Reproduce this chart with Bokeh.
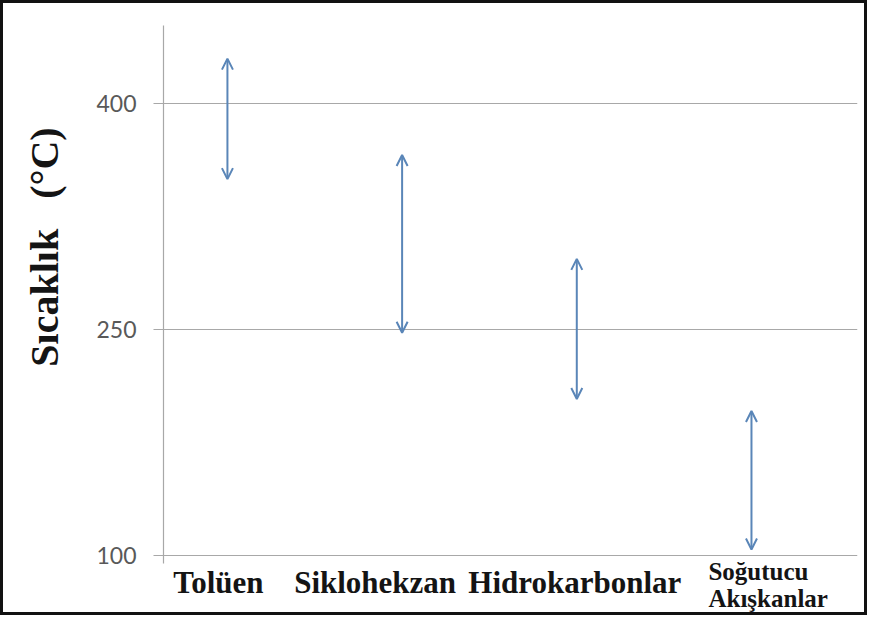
import math
from bokeh.plotting import figure
from bokeh.models import Range1d, FixedTicker, Arrow, OpenHead, ColumnDataSource, Label
from bokeh.embed import file_html
from bokeh.resources import INLINE

# ---- data ----
categories = ["Tolüen", "Siklohekzan", "Hidrokarbonlar", "Soğutucu\nAkışkanlar"]
temp_low = [350, 248, 204, 104]
temp_high = [430, 366, 297, 196]
y_ticks = [100, 250, 400]
y_title = "Sıcaklık"
y_unit = "(°C)"

# ---- layout / style ----
NB = "\u00a0"
X_START, X_END = -0.366, 3.607
Y_AXIS_MIN, Y_END = 100, 452
Y_START = 58.2          # frame continues below the axis so category texts are shown
ARROW_COLOR = "#5a86b8"
GRID_COLOR = "#a8a8a8"

p = figure(width=867, height=615,
           x_range=Range1d(X_START, X_END), y_range=Range1d(Y_START, Y_END),
           output_backend="svg", toolbar_location=None,
           min_border_left=160, min_border_right=13, min_border_top=22, min_border_bottom=0,
           styles={"border": "3px solid #111111"})
p.outline_line_color = None
p.background_fill_color = "white"
p.border_fill_color = "white"

p.xaxis.visible = False
p.xgrid.visible = False

p.yaxis.ticker = FixedTicker(ticks=y_ticks)
p.yaxis.bounds = (95, Y_END)
p.ygrid.ticker = FixedTicker(ticks=y_ticks)
p.ygrid.grid_line_color = GRID_COLOR
p.ygrid.grid_line_width = 1.2
p.yaxis.axis_line_color = GRID_COLOR
p.yaxis.axis_line_width = 1.2
p.yaxis.major_tick_line_color = GRID_COLOR
p.yaxis.major_tick_line_width = 1.2
p.yaxis.major_tick_out = 10
p.yaxis.major_tick_in = 0
p.yaxis.minor_tick_line_color = None
p.yaxis.major_label_text_font = "Lato"
p.yaxis.major_label_text_font_size = "23px"
p.yaxis.major_label_text_color = "#595959"
p.yaxis.major_label_standoff = 17

p.yaxis.axis_label = NB * 15 + y_title + NB * 3 + y_unit
p.yaxis.axis_label_text_font = "Liberation Serif"
p.yaxis.axis_label_text_font_style = "bold"
p.yaxis.axis_label_text_font_size = "40px"
p.yaxis.axis_label_text_color = "#141414"
p.yaxis.axis_label_standoff = 26

src = ColumnDataSource(dict(x=list(range(len(categories))), lo=temp_low, hi=temp_high))
head = dict(size=11, line_color=ARROW_COLOR, line_width=2)
p.add_layout(Arrow(start=OpenHead(**head), end=OpenHead(**head),
                   x_start="x", y_start="lo", x_end="x", y_end="hi", source=src,
                   line_color=ARROW_COLOR, line_width=2))

# category labels (just under the 100 line)
label_dx = [-9, -27, -2, -43]
label_dy = [-27, -27, -27, -29]
label_size = ["31px", "31px", "31px", "25px"]
label_align = ["center", "center", "center", "left"]
for i, cat in enumerate(categories):
    p.add_layout(Label(x=i, y=Y_AXIS_MIN, text=cat, x_offset=label_dx[i], y_offset=label_dy[i],
                       text_font="Liberation Serif", text_font_style="bold",
                       text_font_size=label_size[i], text_align=label_align[i],
                       text_baseline="alphabetic", text_color="#141414",
                       text_line_height=1.0))

open("out.html", "w").write(file_html(p, INLINE))
